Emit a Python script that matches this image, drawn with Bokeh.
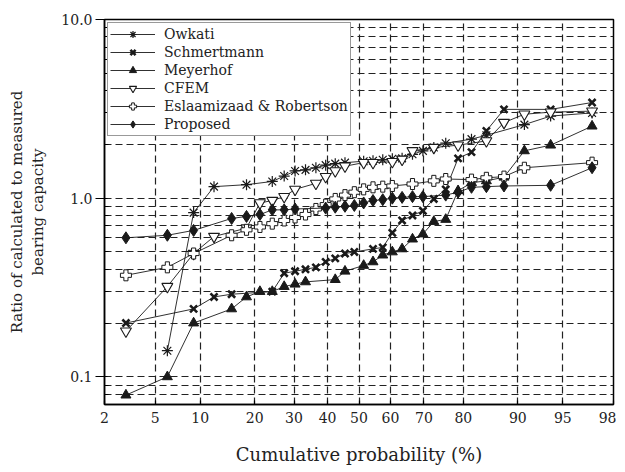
from statistics import NormalDist
from bokeh.plotting import figure
from bokeh.models import FixedTicker, Range1d
from bokeh.embed import file_html
from bokeh.resources import INLINE

# ---------------- data (cumulative probability %, ratio) ----------------
owkati_p = [6.1, 9.1, 12.1, 18.2, 24.2, 27.3, 30.3, 33.3, 36.4, 39.4, 42.4, 45.5, 51.5,
            54.5, 57.6, 60.6, 63.6, 66.7, 69.7, 72.7, 75.8, 81.8, 84.8, 90.9, 93.9, 97.0]
owkati_v = [0.14, 0.83, 1.16, 1.19, 1.24, 1.33, 1.42, 1.44, 1.48, 1.53, 1.56, 1.58, 1.61,
            1.62, 1.64, 1.66, 1.67, 1.76, 1.84, 1.92, 2.03, 2.14, 2.25, 2.58, 2.88, 3.00]

schm_p = [3.0, 9.1, 12.1, 15.2, 24.2, 27.3, 30.3, 33.3, 36.4, 39.4, 42.4, 45.5, 48.5, 54.5,
          57.6, 60.6, 63.6, 66.7, 69.7, 72.7, 75.8, 78.8, 81.8, 84.8, 87.9, 93.9, 97.0]
schm_v = [0.20, 0.24, 0.28, 0.29, 0.30, 0.38, 0.39, 0.40, 0.41, 0.44, 0.46, 0.49, 0.50, 0.52,
          0.53, 0.64, 0.75, 0.80, 0.85, 0.99, 1.12, 1.67, 1.81, 2.38, 3.14, 3.14, 3.43]

meyer_p = [3.0, 6.1, 9.1, 15.2, 18.2, 21.2, 24.2, 27.3, 30.3, 33.3, 42.4, 45.5, 51.5, 54.5,
           57.6, 60.6, 63.6, 66.7, 69.7, 72.7, 75.8, 78.8, 81.8, 84.8, 87.9, 90.9, 93.9, 97.0]
meyer_v = [0.079, 0.10, 0.20, 0.24, 0.28, 0.30, 0.30, 0.32, 0.33, 0.34, 0.35, 0.39, 0.42, 0.44,
           0.48, 0.50, 0.52, 0.59, 0.63, 0.74, 0.76, 1.10, 1.22, 1.25, 1.31, 1.84, 1.98, 2.53]

cfem_p = [3.0, 6.1, 9.1, 12.1, 18.2, 21.2, 24.2, 27.3, 30.3, 36.4, 39.4, 42.4, 45.5, 51.5,
          54.5, 60.6, 63.6, 66.7, 72.7, 78.8, 84.8, 87.9, 90.9, 93.9, 97.0]
cfem_v = [0.18, 0.32, 0.49, 0.61, 0.68, 0.94, 0.97, 1.02, 1.12, 1.21, 1.32, 1.42, 1.51, 1.58,
          1.58, 1.60, 1.65, 1.84, 1.92, 1.98, 2.09, 2.65, 2.95, 3.03, 3.07]

eslaam_p = [3.0, 6.1, 9.1, 15.2, 18.2, 21.2, 24.2, 27.3, 30.3, 33.3, 36.4, 39.4, 42.4, 45.5,
            48.5, 51.5, 54.5, 57.6, 60.6, 66.7, 72.7, 75.8, 81.8, 84.8, 87.9, 90.9, 97.0]
eslaam_v = [0.37, 0.41, 0.49, 0.62, 0.665, 0.69, 0.72, 0.75, 0.78, 0.81, 0.87, 0.92, 0.99, 1.04,
            1.08, 1.12, 1.15, 1.16, 1.17, 1.20, 1.25, 1.28, 1.27, 1.30, 1.32, 1.48, 1.58]

prop_p = [3.0, 6.1, 9.1, 15.2, 18.2, 21.2, 24.2, 27.3, 30.3, 39.4, 42.4, 45.5, 48.5, 51.5,
          54.5, 57.6, 60.6, 63.6, 66.7, 69.7, 75.8, 78.8, 81.8, 84.8, 87.9, 93.9, 97.0]
prop_v = [0.60, 0.62, 0.66, 0.77, 0.79, 0.81, 0.86, 0.86, 0.87, 0.88, 0.89, 0.90, 0.91, 0.94,
          0.97, 0.98, 1.00, 1.01, 1.02, 1.02, 1.04, 1.08, 1.15, 1.16, 1.17, 1.18, 1.48]

x_tick_pct = [2, 5, 10, 20, 30, 40, 50, 60, 70, 80, 90, 95, 98]
x_grid_pct = [5, 10, 20, 30, 40, 50, 60, 70, 80, 90, 95]
y_major = [0.1, 1.0, 10.0]
y_major_labels = ["0.1", "1.0", "10.0"]
y_minor = [0.07, 0.08, 0.09, 0.2, 0.3, 0.4, 0.5, 0.6, 0.7, 0.8, 0.9,
           2.0, 3.0, 4.0, 5.0, 6.0, 7.0, 8.0, 9.0]

# ---------------- normal-probability transform ----------------
nd = NormalDist()
def zq(pct):
    return nd.inv_cdf(pct / 100.0)

FONT = "DejaVu Serif"

p = figure(width=616, height=467, y_axis_type="log",
           x_range=Range1d(zq(2), zq(98)), y_range=Range1d(0.07, 10.0),
           output_backend="svg", toolbar_location=None,
           min_border_left=104, min_border_right=3, min_border_top=19, min_border_bottom=63,
           background_fill_color="white", border_fill_color="white")

p.outline_line_color = "black"
p.outline_line_width = 1.5

# x axis
xt = [zq(v) for v in x_tick_pct]
p.xaxis.ticker = FixedTicker(ticks=xt)
p.xaxis.major_label_overrides = {t: str(v) for t, v in zip(xt, x_tick_pct)}
p.xaxis.axis_label = "Cumulative probability (%)"
p.xaxis.axis_label_standoff = 18
p.xaxis.major_tick_in = 4
p.xaxis.major_tick_out = 0
p.xaxis.minor_tick_line_color = None
p.xaxis.major_label_standoff = 7

# y axis
p.yaxis.ticker = FixedTicker(ticks=y_major, minor_ticks=y_minor)
p.yaxis.major_label_overrides = {t: s for t, s in zip(y_major, y_major_labels)}
p.yaxis.axis_label = "Ratio of calculated to measured\nbearing capacity"
p.yaxis.axis_label_standoff = 11
p.yaxis.major_tick_in = 3
p.yaxis.major_tick_out = 9
p.yaxis.minor_tick_in = 4
p.yaxis.minor_tick_out = 0
p.yaxis.major_label_standoff = 3

for ax in (p.xaxis, p.yaxis):
    ax.axis_line_color = "black"
    ax.axis_line_width = 1.5
    ax.major_tick_line_color = "black"
    ax.major_tick_line_width = 1.2
    ax.major_label_text_font = FONT
    ax.major_label_text_font_size = "14px"
    ax.major_label_text_color = "#222222"
    ax.axis_label_text_font = FONT
    ax.axis_label_text_font_style = "normal"
    ax.axis_label_text_color = "#222222"
p.xaxis.axis_label_text_font_size = "18px"
p.yaxis.axis_label_text_font_size = "15px"
p.yaxis.minor_tick_line_color = "black"

# grids
p.xgrid.ticker = FixedTicker(ticks=[zq(v) for v in x_grid_pct])
for g in (p.xgrid, p.ygrid):
    g.grid_line_color = "#222222"
    g.grid_line_dash = "7 4"
    g.grid_line_width = 1.2
p.ygrid.minor_grid_line_color = "#222222"
p.ygrid.minor_grid_line_dash = "7 4"
p.ygrid.minor_grid_line_width = 1.2

LC = "#1a1a1a"
series = [
    ("Owkati", owkati_p, owkati_v, dict(marker="asterisk", size=11, line_width=1.2,
                                        line_color=LC, fill_color=None)),
    ("Schmertmann", schm_p, schm_v, dict(marker="x", size=10, line_width=2.6,
                                         line_color=LC, fill_color=None)),
    ("Meyerhof", meyer_p, meyer_v, dict(marker="triangle", size=10, line_width=1,
                                        line_color=LC, fill_color=LC)),
    ("CFEM", cfem_p, cfem_v, dict(marker="inverted_triangle", size=11, line_width=1.1,
                                  line_color=LC, fill_color="white")),
    ("Eslaamizaad & Robertson", eslaam_p, eslaam_v, dict(marker="plus", size=11, line_width=1.0,
                                                         line_color=LC, fill_color="white")),
    ("Proposed", prop_p, prop_v, dict(marker="diamond", size=12, line_width=1,
                                      line_color=LC, fill_color=LC)),
]

for name, ps, vs, mk in series:
    xs = [zq(v) for v in ps]
    p.line(xs, vs, line_color=LC, line_width=0.9, legend_label=name)
    p.scatter(xs, vs, legend_label=name, **mk)

lg = p.legend[0]
lg.location = "top_left"
lg.margin = 3
lg.padding = 2
lg.spacing = 0
lg.glyph_width = 45
lg.glyph_height = 18
lg.label_height = 18
lg.label_standoff = 9
lg.label_text_font = FONT
lg.label_text_font_size = "14px"
lg.label_text_color = "#222222"
lg.border_line_color = "#333333"
lg.border_line_width = 1.5
lg.background_fill_color = "white"
lg.background_fill_alpha = 1.0

open("out.html", "w").write(file_html(p, INLINE))
